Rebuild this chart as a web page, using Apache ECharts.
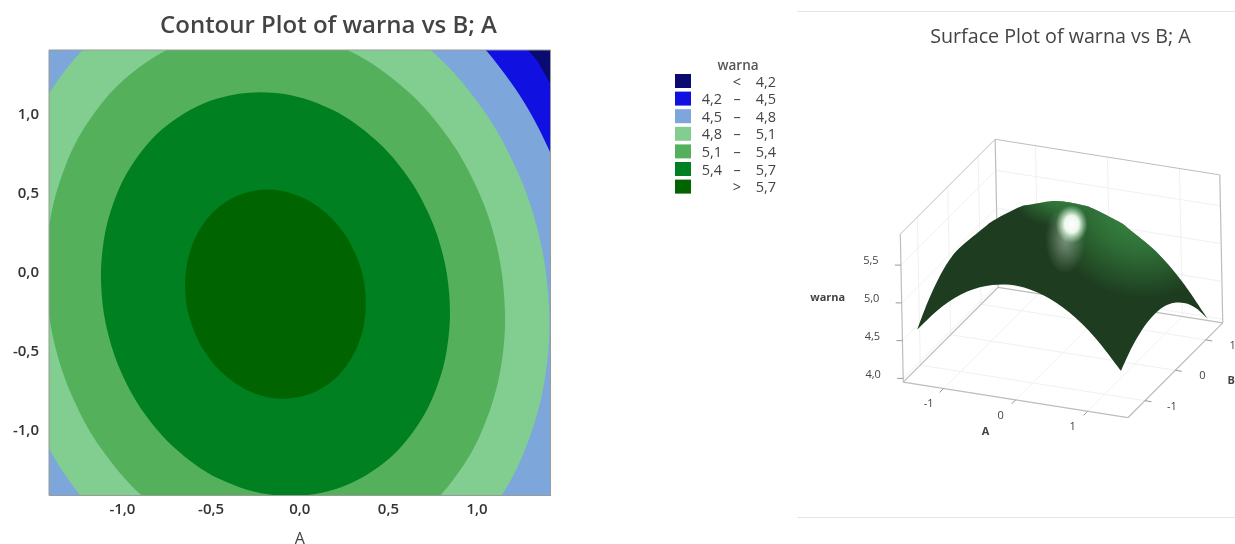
<!DOCTYPE html>
<html>
<head>
<meta charset="utf-8">
<title>warna</title>
<script src="https://cdn.jsdelivr.net/npm/echarts@6/dist/echarts.min.js"></script>
<style>
  html, body { margin: 0; padding: 0; background: #fff; }
  #main { width: 1235px; height: 544px; }
</style>
</head>
<body>
<div id="main"></div>
<script>
// contour bands, lowest first. each polygon is the area [A, B] above that level
// the outer ones run past the plot edge and get clipped there
const bandColors = ['#0a0a70', '#1010e0', '#7da7da', '#82cd90', '#55b05c', '#008020', '#006400'];
const legendLow = ['', '4,2', '4,5', '4,8', '5,1', '5,4', ''];
const legendSign = ['<', '–', '–', '–', '–', '–', '>'];
const legendHigh = ['4,2', '4,5', '4,8', '5,1', '5,4', '5,7', '5,7'];

const below42 = [[-1.414, 1.414], [1.414, 1.414], [1.414, -1.414], [-1.414, -1.414]];
const above42 = [[0.983, 1.805], [-2, 1.805], [-2, -2], [1.804, -2], [1.804, -0.136], [1.733, 0.365], [1.583, 0.857], [1.342, 1.343]];
const above45 = [[1.614, -0.136], [1.55, 0.316], [1.414, 0.76], [1.197, 1.198], [0.874, 1.615], [0.425, 1.962], [-0.137, 2.147], [-0.731, 2.081], [-1.238, 1.771], [-1.59, 1.317], [-1.793, 0.82], [-1.884, 0.332], [-1.888, -0.136], [-1.824, -0.588], [-1.688, -1.032], [-1.471, -1.47], [-1.148, -1.887], [-0.699, -2.234], [-0.137, -2.419], [0.457, -2.353], [0.964, -2.043], [1.334, -1.589], [1.519, -1.092], [1.61, -0.604]];
const above48 = [[1.401, -0.136], [1.344, 0.261], [1.225, 0.65], [1.034, 1.035], [0.75, 1.401], [0.357, 1.7065], [-0.137, 1.868], [-0.659, 1.81], [-1.104, 1.538], [-1.413, 1.14], [-1.591, 0.704], [-1.671, 0.275], [-1.675, -0.136], [-1.618, -0.533], [-1.499, -0.922], [-1.308, -1.307], [-1.024, -1.673], [-0.631, -1.979], [-0.137, -2.14], [0.385, -2.082], [0.83, -1.81], [1.139, -1.412], [1.317, -0.976], [1.397, -0.547]];
const above51 = [[1.152, -0.136], [1.105, 0.197], [1.005, 0.523], [0.845, 0.846], [0.607, 1.153], [0.277, 1.409], [-0.137, 1.545], [-0.574, 1.496], [-0.947, 1.268], [-1.207, 0.934], [-1.356, 0.568], [-1.423, 0.2085], [-1.426, -0.136], [-1.379, -0.469], [-1.279, -0.795], [-1.119, -1.118], [-0.881, -1.425], [-0.551, -1.681], [-0.137, -1.817], [0.3, -1.768], [0.673, -1.54], [0.933, -1.206], [1.082, -0.84], [1.149, -0.48]];
const above54 = [[0.843, -0.136], [0.8065, 0.117], [0.731, 0.365], [0.609, 0.61], [0.428, 0.843], [0.1775, 1.038], [-0.137, 1.141], [-0.469, 1.104], [-0.753, 0.931], [-0.95, 0.677], [-1.064, 0.399], [-1.114, 0.126], [-1.117, -0.136], [-1.0805, -0.389], [-1.005, -0.637], [-0.883, -0.882], [-0.702, -1.115], [-0.4515, -1.31], [-0.137, -1.413], [0.195, -1.376], [0.479, -1.203], [0.676, -0.949], [0.79, -0.671], [0.84, -0.398]];
const above57 = [[0.3705, -0.136], [0.352, -0.005], [0.3125, 0.124], [0.2495, 0.2505], [0.156, 0.371], [0.026, 0.472], [-0.137, 0.5255], [-0.309, 0.506], [-0.456, 0.417], [-0.558, 0.285], [-0.617, 0.141], [-0.643, 0], [-0.6445, -0.136], [-0.626, -0.267], [-0.5865, -0.396], [-0.5235, -0.5225], [-0.43, -0.643], [-0.3, -0.744], [-0.137, -0.7975], [0.035, -0.778], [0.182, -0.689], [0.284, -0.557], [0.343, -0.413], [0.369, -0.272]];
const bandShapes = [below42, above42, above45, above48, above51, above54, above57];

const contourTicks = [-1, -0.5, 0, 0.5, 1];

// surface heights, one row per B value, one column per A value
const gridA = [-1.414, -1.06, -0.707, -0.354, 0, 0.354, 0.707, 1.06, 1.414];
const gridB = [-1.414, -1.06, -0.707, -0.354, 0, 0.354, 0.707, 1.06, 1.414];
const warna = [
  [4.61, 4.97, 5.22, 5.36, 5.40, 5.33, 5.16, 4.88, 4.49],
  [4.83, 5.18, 5.43, 5.56, 5.59, 5.52, 5.34, 5.05, 4.65],
  [4.99, 5.33, 5.57, 5.70, 5.73, 5.64, 5.45, 5.16, 4.75],
  [5.09, 5.42, 5.65, 5.78, 5.79, 5.70, 5.51, 5.20, 4.79],
  [5.12, 5.45, 5.67, 5.79, 5.80, 5.70, 5.49, 5.18, 4.77],
  [5.09, 5.41, 5.63, 5.74, 5.74, 5.63, 5.42, 5.10, 4.68],
  [5.00, 5.31, 5.52, 5.62, 5.62, 5.50, 5.29, 4.96, 4.53],
  [4.84, 5.15, 5.35, 5.45, 5.43, 5.31, 5.09, 4.76, 4.32],
  [4.63, 4.93, 5.12, 5.21, 5.19, 5.06, 4.83, 4.49, 4.04]
];
const surfaceAB = [-1, 0, 1];
const surfaceZ = [4, 4.5, 5, 5.5];

const boxEdge = 1.56;
const zFloor = 3.95;
const zTop = 5.91;

function comma(v) {
  return v.toFixed(1).replace('.', ',');
}

// oblique view used by the surface plot, result is in the units of the hidden axes
function project(a, b, z) {
  const h = z - zFloor;
  return [72 * a + 30.4 * b - 1.5 * h, -11.4 * a + 30.4 * b + 75.5 * h];
}

function renderBand(params, api) {
  const i = api.value(0);
  return {
    type: 'polygon',
    shape: { points: bandShapes[i].map(p => api.coord(p)), smooth: i >= 2 ? 0.35 : 0 },
    style: { fill: bandColors[i] }
  };
}

function renderPlotBorder(params, api) {
  const pts = below42.map(p => api.coord(p));
  return {
    type: 'polygon',
    shape: { points: pts },
    style: { fill: 'none', stroke: '#9a9a9a', lineWidth: 1 }
  };
}

function meshPoint(api, i, j) {
  return api.coord(project(gridA[i], gridB[j], warna[j][i]));
}

function curveThrough(p) {
  let d = '';
  for (let k = 0; k < p.length - 1; k++) {
    const p0 = p[Math.max(k - 1, 0)], p1 = p[k], p2 = p[k + 1], p3 = p[Math.min(k + 2, p.length - 1)];
    d += 'C' + [
      p1[0] + (p2[0] - p0[0]) / 6, p1[1] + (p2[1] - p0[1]) / 6,
      p2[0] - (p3[0] - p1[0]) / 6, p2[1] - (p3[1] - p1[1]) / 6,
      p2[0], p2[1]
    ].map(v => v.toFixed(1)).join(' ');
  }
  return d;
}

// outline of the visible surface: upper hull of the mesh, then the two front edges
function surfaceOutline(api) {
  const all = [];
  warna.forEach((row, j) => row.forEach((z, i) => all.push(meshPoint(api, i, j))));
  all.sort((a, b) => a[0] - b[0]);
  const hull = [];
  all.forEach(p => {
    while (hull.length > 1) {
      const o = hull[hull.length - 2], a = hull[hull.length - 1];
      if ((a[0] - o[0]) * (p[1] - o[1]) - (a[1] - o[1]) * (p[0] - o[0]) <= 0) hull.pop();
      else break;
    }
    hull.push(p);
  });
  const last = gridA.length - 1;
  const rightEdge = [], frontEdge = [];
  for (let j = last; j >= 0; j--) rightEdge.push(meshPoint(api, last, j));
  for (let i = last; i >= 0; i--) frontEdge.push(meshPoint(api, i, 0));
  return 'M' + hull[0][0].toFixed(1) + ' ' + hull[0][1].toFixed(1) +
    curveThrough(hull) + curveThrough(rightEdge) + curveThrough(frontEdge) + 'Z';
}

function renderSurface(params, api) {
  return {
    type: 'path',
    shape: { pathData: surfaceOutline(api) },
    style: { fill: '#1e3d20' }
  };
}

// green sheen on the upper side of the surface, glow center given in surface coordinates
function renderSheen(params, api) {
  const c = api.coord(project(api.value(0), api.value(1), api.value(2)));
  const r = api.value(3);
  return {
    type: 'path',
    shape: { pathData: surfaceOutline(api) },
    style: {
      fill: new echarts.graphic.RadialGradient(c[0], c[1], r, [
        { offset: 0, color: 'rgba(70,170,84,0.85)' },
        { offset: 0.55, color: 'rgba(60,150,72,0.55)' },
        { offset: 1, color: 'rgba(60,150,72,0)' }
      ], true)
    }
  };
}

function renderGlow(params, api) {
  const c = api.coord(project(api.value(0), api.value(1), api.value(2)));
  const core = api.value(5);
  return {
    type: 'circle',
    x: c[0],
    y: c[1],
    scaleX: api.value(3),
    scaleY: api.value(4),
    shape: { cx: 0, cy: 0, r: 1 },
    style: {
      fill: new echarts.graphic.RadialGradient(0.5, 0.5, 0.5, core ? [
        { offset: 0, color: 'rgba(255,255,255,1)' },
        { offset: 0.45, color: 'rgba(245,255,245,0.95)' },
        { offset: 1, color: 'rgba(190,240,195,0)' }
      ] : [
        { offset: 0, color: 'rgba(205,220,205,0.5)' },
        { offset: 1, color: 'rgba(205,220,205,0)' }
      ])
    }
  };
}

function frameLine(api, from, to, color, width) {
  const a = api.coord(project(from[0], from[1], from[2]));
  const b = api.coord(project(to[0], to[1], to[2]));
  return {
    type: 'line',
    shape: { x1: a[0], y1: a[1], x2: b[0], y2: b[1] },
    style: { stroke: color, lineWidth: width }
  };
}

function renderFrame(params, api) {
  const e = boxEdge, kids = [];
  const faint = '#f1f1f1', edge = '#bdbdbd';
  surfaceAB.forEach(v => {
    kids.push(frameLine(api, [v, -e, zFloor], [v, e, zFloor], faint, 1));
    kids.push(frameLine(api, [-e, v, zFloor], [e, v, zFloor], faint, 1));
    kids.push(frameLine(api, [v, e, zFloor], [v, e, zTop], faint, 1));
    kids.push(frameLine(api, [-e, v, zFloor], [-e, v, zTop], faint, 1));
  });
  surfaceZ.forEach(v => {
    kids.push(frameLine(api, [-e, -e, v], [-e, e, v], faint, 1));
    kids.push(frameLine(api, [-e, e, v], [e, e, v], faint, 1));
  });
  kids.push(frameLine(api, [-e, -e, zFloor], [e, -e, zFloor], edge, 1.2));
  kids.push(frameLine(api, [e, -e, zFloor], [e, e, zFloor], edge, 1.2));
  kids.push(frameLine(api, [e, e, zFloor], [-e, e, zFloor], edge, 1.2));
  kids.push(frameLine(api, [-e, e, zFloor], [-e, -e, zFloor], edge, 1.2));
  kids.push(frameLine(api, [-e, -e, zFloor], [-e, -e, zTop], edge, 1.2));
  kids.push(frameLine(api, [-e, e, zFloor], [-e, e, zTop], edge, 1.2));
  kids.push(frameLine(api, [e, e, zFloor], [e, e, zTop], edge, 1.2));
  kids.push(frameLine(api, [-e, -e, zTop], [-e, e, zTop], edge, 1));
  kids.push(frameLine(api, [-e, e, zTop], [e, e, zTop], edge, 1));
  surfaceAB.forEach(v => {
    kids.push(frameLine(api, [v, -e, zFloor], [v, -e - 0.13, zFloor], '#999', 1));
    kids.push(frameLine(api, [e, v, zFloor], [e + 0.09, v, zFloor], '#999', 1));
  });
  surfaceZ.forEach(v => {
    const p = api.coord(project(-e, -e, v));
    kids.push({
      type: 'line',
      shape: { x1: p[0] - 6, y1: p[1], x2: p[0], y2: p[1] },
      style: { stroke: '#999', lineWidth: 1 }
    });
  });
  return { type: 'group', children: kids };
}

function label3d(api, pos, dx, dy, text, font) {
  const p = api.coord(project(pos[0], pos[1], pos[2]));
  return {
    type: 'text',
    x: p[0] + dx,
    y: p[1] + dy,
    style: { text: text, font: font, fill: '#444', align: 'center', verticalAlign: 'middle' }
  };
}

function renderSurfaceLabels(params, api) {
  const e = boxEdge, kids = [];
  const small = '11px "Open Sans"', bold = '700 11px "Open Sans"';
  surfaceAB.forEach(v => {
    kids.push(label3d(api, [v, -e, zFloor], -15, 15.5, String(v), small));
    kids.push(label3d(api, [e, v, zFloor], 27, 6, String(v), small));
  });
  surfaceZ.forEach(v => {
    kids.push(label3d(api, [-e, -e, v], -30, -4, comma(v), small));
  });
  kids.push(label3d(api, [0, -e, zFloor], -30, 32, 'A', bold));
  kids.push(label3d(api, [e, 0, zFloor], 56, 11, 'B', bold));
  kids.push(label3d(api, [-e, -e, 5], -74, -5, 'warna', bold));
  return { type: 'group', children: kids };
}

const legendItems = [];
legendItems.push({
  type: 'text', x: 738, y: 66,
  style: { text: 'warna', font: '600 13.5px "Open Sans"', fill: '#555', align: 'center', verticalAlign: 'middle' }
});
bandColors.forEach((c, i) => {
  const y = 74 + 17.6 * i;
  legendItems.push({ type: 'rect', shape: { x: 675, y: y, width: 16, height: 14 }, style: { fill: c } });
  [[legendLow[i], 722, 'right'], [legendSign[i], 737, 'center'], [legendHigh[i], 776, 'right']].forEach(t => {
    legendItems.push({
      type: 'text', x: t[1], y: y + 8.5,
      style: { text: t[0], font: '14.5px "Open Sans"', fill: '#444', align: t[2], verticalAlign: 'middle' }
    });
  });
});
[11, 517].forEach(y => {
  legendItems.push({
    type: 'line', shape: { x1: 797, y1: y + 0.5, x2: 1235, y2: y + 0.5 },
    style: { stroke: '#e4e4e4', lineWidth: 1 }
  });
});

const contourAxis = {
  type: 'value',
  min: -1.414,
  max: 1.414,
  splitLine: { show: false },
  axisLine: { show: false },
  axisTick: { show: true, length: 5, customValues: contourTicks, lineStyle: { color: '#999' } },
  axisLabel: {
    customValues: contourTicks,
    formatter: comma,
    color: '#333',
    fontFamily: 'Open Sans',
    fontWeight: 600,
    fontSize: 15,
    margin: 10
  }
};

const chart = echarts.init(document.getElementById('main'));
chart.setOption({
  animation: false,
  backgroundColor: '#fff',
  textStyle: { fontFamily: 'Open Sans' },
  title: [
    {
      text: 'Contour Plot of warna vs B; A',
      left: 323.5, top: 9, textAlign: 'center',
      textStyle: { fontFamily: 'Open Sans', fontSize: 24, fontWeight: 600, color: '#444' }
    },
    {
      text: 'Surface Plot of warna vs B; A',
      left: 1055.5, top: 22, textAlign: 'center',
      textStyle: { fontFamily: 'Open Sans', fontSize: 19.7, fontWeight: 400, color: '#444' }
    }
  ],
  grid: [
    { left: 49, top: 50, width: 501.5, height: 445.5, outerBoundsMode: 'none' },
    { left: 797, top: 120, width: 438, height: 330, outerBoundsMode: 'none' }
  ],
  xAxis: [
    Object.assign({}, contourAxis, {
      gridIndex: 0,
      name: 'A',
      nameLocation: 'middle',
      nameGap: 36,
      nameTextStyle: { fontFamily: 'Open Sans', fontSize: 16, fontWeight: 500, color: '#444' },
      axisLabel: Object.assign({}, contourAxis.axisLabel, { margin: 7 })
    }),
    { type: 'value', gridIndex: 1, min: -266, max: 172, show: false }
  ],
  yAxis: [
    Object.assign({}, contourAxis, { gridIndex: 0 }),
    { type: 'value', gridIndex: 1, min: -97.5, max: 232.5, show: false }
  ],
  graphic: legendItems,
  series: [
    {
      type: 'custom', name: 'bands', xAxisIndex: 0, yAxisIndex: 0, clip: true,
      data: bandColors.map((c, i) => [i]), renderItem: renderBand, silent: true, z: 2
    },
    {
      type: 'custom', name: 'border', xAxisIndex: 0, yAxisIndex: 0,
      data: [[0]], renderItem: renderPlotBorder, silent: true, z: 3
    },
    {
      type: 'custom', name: 'frame', xAxisIndex: 1, yAxisIndex: 1,
      data: [[0]], renderItem: renderFrame, silent: true, z: 2
    },
    {
      type: 'custom', name: 'surface', xAxisIndex: 1, yAxisIndex: 1,
      data: [[0]], renderItem: renderSurface, silent: true, z: 3
    },
    {
      type: 'custom', name: 'sheen', xAxisIndex: 1, yAxisIndex: 1,
      data: [[0.9, 0.6, 5.9, 100], [-0.5, 1.0, 5.8, 50]], renderItem: renderSheen, silent: true, z: 4
    },
    {
      type: 'custom', name: 'glow', xAxisIndex: 1, yAxisIndex: 1,
      data: [[0.15, -0.2, 5.55, 20, 34, 0], [0.2, -0.1, 5.72, 16, 19, 1]], renderItem: renderGlow, silent: true, z: 5
    },
    {
      type: 'custom', name: 'labels', xAxisIndex: 1, yAxisIndex: 1,
      data: [[0]], renderItem: renderSurfaceLabels, silent: true, z: 6
    }
  ]
});
</script>
</body>
</html>
